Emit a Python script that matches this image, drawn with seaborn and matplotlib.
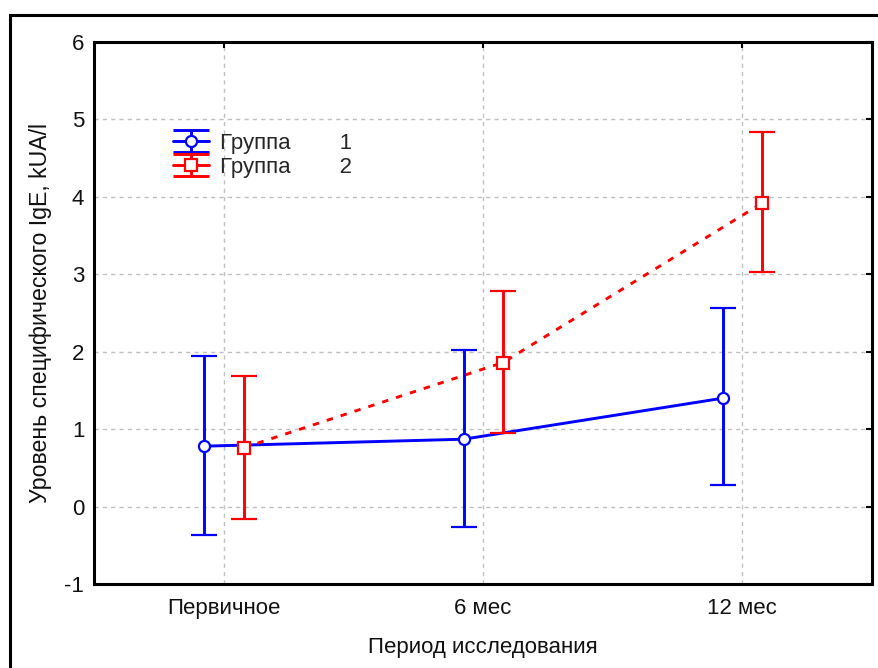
import numpy as np
import pandas as pd
import matplotlib
matplotlib.use('Agg')
import matplotlib.pyplot as plt
import seaborn as sns
from matplotlib.patches import Rectangle
from matplotlib.lines import Line2D
from matplotlib.path import Path
from matplotlib.legend_handler import HandlerTuple

periods = ['Первичное', '6 мес', '12 мес']
groups = ['Группа        1', 'Группа        2']

g1_mean = [0.78, 0.87, 1.40]
g1_low = [-0.37, -0.27, 0.28]
g1_high = [1.95, 2.02, 2.57]

g2_mean = [0.76, 1.86, 3.92]
g2_low = [-0.16, 0.95, 3.03]
g2_high = [1.68, 2.79, 4.84]

colors = ['#0000ff', '#ff0000']
fs = 16

sns.set_style('white')
plt.rcParams['font.family'] = ['Liberation Sans', 'DejaVu Sans']
plt.rcParams['axes.unicode_minus'] = False

fig = plt.figure(figsize=(8.79, 6.68), dpi=100)
ax = fig.add_axes([94 / 879, 1 - 584 / 668, (872 - 94) / 879, (584 - 42) / 668])

# outer frame like the original export
fig.patches.append(Rectangle((10 / 879, -0.1), 1.2, 1 - 15 / 668 + 0.1,
                             transform=fig.transFigure, fill=False,
                             edgecolor='black', lw=2.2, zorder=0))

df = pd.DataFrame({
    'x': np.tile(np.arange(len(periods)), 2) + np.repeat([-0.075, 0.077], 3),
    'mean': g1_mean + g2_mean,
    'low': g1_low + g2_low,
    'high': g1_high + g2_high,
    'group': np.repeat(groups, 3),
})

markers = ['o', 's']
for i, (grp, sub) in enumerate(df.groupby('group', sort=False)):
    ls = '-' if i == 0 else (0, (2.2, 2.8))
    sns.lineplot(data=sub, x='x', y='mean', ax=ax, color=colors[i], lw=2.1,
                 linestyle=ls, legend=False, zorder=2)
    ax.errorbar(sub['x'], sub['mean'],
                yerr=[sub['mean'] - sub['low'], sub['high'] - sub['mean']],
                fmt=markers[i], color=colors[i], ecolor=colors[i],
                mfc='white', mec=colors[i], mew=1.6, ms=8 if i == 0 else 8.5,
                elinewidth=2.1, capsize=9.5, capthick=2.1, zorder=3)

# legend symbol: wide "I" with line and marker through the middle
ibar = Path([(-1, 0.6), (1, 0.6), (0, 0.6), (0, -0.6), (-1, -0.6), (1, -0.6)],
            [Path.MOVETO, Path.LINETO, Path.MOVETO, Path.LINETO, Path.MOVETO, Path.LINETO])
leg_handles = []
for i in range(2):
    bar = Line2D([], [], ls='none', marker=ibar, ms=26, mew=2.1, mec=colors[i])
    mid = Line2D([], [], color=colors[i], lw=2.1, marker=markers[i], mfc='white',
                 mec=colors[i], mew=1.6, ms=8 if i == 0 else 8.5)
    leg_handles.append((bar, mid))
ax.legend(leg_handles, groups, loc='upper left',
          bbox_to_anchor=(173 / 879, 1 - 133 / 668), bbox_transform=fig.transFigure,
          frameon=False, fontsize=fs, handlelength=1.62, handletextpad=0.5,
          labelspacing=0.12, borderpad=0, borderaxespad=0,
          handler_map={tuple: HandlerTuple(ndivide=1, pad=0)})

ax.set_xlim(-0.5, 2.5)
ax.set_ylim(-1, 6)
ax.set_xticks(range(len(periods)))
ax.set_xticklabels(periods)
ax.set_yticks(range(-1, 7))
ax.grid(True, color='#c0c0c0', ls=(0, (3, 3)), lw=1.0)
ax.set_axisbelow(True)
for s in ax.spines.values():
    s.set_linewidth(2.2)
    s.set_color('black')
ax.tick_params(direction='in', length=4, width=1.5, top=True, right=True,
               labelsize=fs, pad=7, colors='black', labelcolor='#111111')
ax.tick_params(axis='x', pad=10)
ax.set_xlabel('Период исследования', fontsize=fs, labelpad=13, color='#111111')
ax.set_ylabel('Уровень специфического IgE, kUA/l', fontsize=16.7, labelpad=9, color='#111111')

plt.savefig('out.png', dpi=100)
